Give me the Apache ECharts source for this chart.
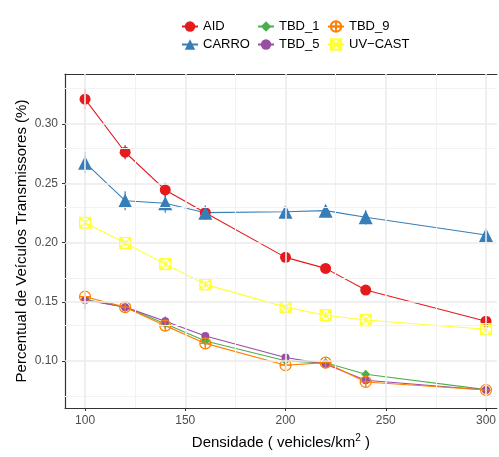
<!DOCTYPE html>
<html>
<head>
<meta charset="utf-8">
<script src="https://cdn.jsdelivr.net/npm/echarts@6/dist/echarts.min.js"></script>
<style>
  html, body { margin: 0; padding: 0; background: #fff; }
  #chart { width: 499px; height: 457px; }
</style>
</head>
<body>
<div id="chart"></div>
<script>
  // densidades (eixo x)
  const densidade = [100, 120, 140, 160, 200, 220, 240, 300]

  // valores
  const aid    = [0.3211, 0.2763, 0.2445, 0.2253, 0.1876, 0.1783, 0.1600, 0.1337]
  const carro  = [0.2675, 0.2354, 0.2332, 0.2253, 0.2261, 0.2270, 0.2214, 0.2064]
  const tbd1   = [0.1520, 0.1456, 0.1315, 0.1170, 0.1003, 0.0986, 0.0890, 0.0760]
  const tbd5   = [0.1516, 0.1456, 0.1337, 0.1212, 0.1031, 0.0975, 0.0839, 0.0757]
  const tbd9   = [0.1544, 0.1456, 0.1300, 0.1150, 0.0966, 0.0988, 0.0825, 0.0757]
  const uvcast = [0.2168, 0.1997, 0.1819, 0.1648, 0.1456, 0.1388, 0.1347, 0.1270]

  // meia altura das barras de erro
  const aidErr    = [0.0085, 0.006, 0.006, 0.005, 0.003, 0.003, 0.003, 0.003]
  const carroErr  = [0.009, 0.008, 0.008, 0.006, 0.005, 0.004, 0.006, 0.003]
  const tbd1Err   = [0.004, 0.003, 0.003, 0.003, 0.003, 0.003, 0.003, 0.002]
  const tbd5Err   = [0.0075, 0.003, 0.004, 0.003, 0.003, 0.003, 0.003, 0.002]
  const tbd9Err   = [0.006, 0.003, 0.003, 0.003, 0.003, 0.003, 0.003, 0.002]
  const uvcastErr = [0.003, 0.003, 0.003, 0.003, 0.003, 0.003, 0.003, 0.003]

  // ticks e grade
  const xTicks = [100, 150, 200, 250, 300]
  const xMinor = [125, 175, 225, 275]
  const yTicks = [0.10, 0.15, 0.20, 0.25, 0.30]
  const yMinor = [0.075, 0.125, 0.175, 0.225, 0.275, 0.325]

  const circlePlus = 'path://M10,0A10,10 0 1,1 9.99,0Z M10,0L10,20 M0,10L20,10'
  const squareX = 'path://M0,0L20,0L20,20L0,20Z M0,0L20,20 M20,0L0,20 M10,0A10,10 0 1,1 9.99,0Z'

  const myChart = echarts.init(document.getElementById('chart'))

  function pairs(vals) {
    return densidade.map((d, i) => [d, vals[i]])
  }

  function errBars(vals, errs, color) {
    return {
      type: 'custom',
      silent: true,
      z: 3,
      data: densidade.map((d, i) => [d, vals[i] - errs[i], vals[i] + errs[i]]),
      renderItem: function (params, api) {
        const lo = api.coord([api.value(0), api.value(1)])
        const hi = api.coord([api.value(0), api.value(2)])
        return {
          type: 'line',
          shape: { x1: lo[0], y1: lo[1], x2: hi[0], y2: hi[1] },
          style: { stroke: color, lineWidth: 1.2 }
        }
      }
    }
  }

  function lineSerie(name, vals, color, symbol, size, open) {
    return {
      name: name,
      type: 'line',
      data: pairs(vals),
      symbol: symbol,
      symbolSize: size,
      z: 4,
      lineStyle: { color: color, width: 1.1 },
      itemStyle: open
        ? { color: 'rgba(255,255,255,0)', borderColor: color, borderWidth: 1.2 }
        : { color: color },
      emphasis: { disabled: true }
    }
  }

  // linhas de grade feitas com markLine
  const gridSerie = {
    type: 'line',
    data: [],
    silent: true,
    z: 1,
    markLine: {
      silent: true,
      symbol: 'none',
      label: { show: false },
      animation: false,
      data: [
        ...xMinor.map(v => ({ xAxis: v, lineStyle: { color: '#F2F2F2', width: 1, type: 'solid' } })),
        ...yMinor.map(v => ({ yAxis: v, lineStyle: { color: '#F2F2F2', width: 1, type: 'solid' } })),
        ...xTicks.map(v => ({ xAxis: v, lineStyle: { color: '#EBEBEB', width: 1.6, type: 'solid' } })),
        ...yTicks.map(v => ({ yAxis: v, lineStyle: { color: '#EBEBEB', width: 1.6, type: 'solid' } }))
      ]
    }
  }

  const legendBase = {
    orient: 'vertical',
    top: 15,
    itemWidth: 16,
    itemHeight: 13,
    itemGap: 5,
    textStyle: { fontSize: 13, color: '#000', fontFamily: 'Liberation Sans' },
    selectedMode: false
  }

  const borderLine = { show: true, lineStyle: { color: '#333', width: 1.2 } }

  const option = {
    animation: false,
    textStyle: { fontFamily: 'Liberation Sans' },
    legend: [
      { ...legendBase, left: 176, data: ['AID', 'CARRO'] },
      { ...legendBase, left: 252, data: ['TBD_1', 'TBD_5'] },
      { ...legendBase, left: 322, data: ['TBD_9', 'UV\u2212CAST'] }
    ],
    grid: {
      left: 65,
      right: 0,
      top: 74,
      bottom: 49,
      containLabel: false
    },
    xAxis: [
      {
        type: 'value',
        min: 90,
        max: 305.4,
        name: 'Densidade ( vehicles/km{sup|2} )',
        nameLocation: 'middle',
        nameGap: 25,
        nameTextStyle: {
          fontSize: 15,
          color: '#000',
          rich: { sup: { fontSize: 10, color: '#000', padding: [0, 0, 9, 0] } }
        },
        axisLine: borderLine,
        axisTick: { show: true, length: 3, customValues: xTicks, lineStyle: { color: '#333' } },
        axisLabel: { customValues: xTicks, fontSize: 12, color: '#4D4D4D', margin: 7 },
        splitLine: { show: false }
      },
      {
        type: 'value',
        position: 'top',
        min: 90,
        max: 305.4,
        axisLine: borderLine,
        axisTick: { show: false },
        axisLabel: { show: false },
        splitLine: { show: false }
      }
    ],
    yAxis: {
      type: 'value',
      min: 0.0605,
      max: 0.3423,
      name: 'Percentual de Veículos Transmissores (%)',
      nameLocation: 'middle',
      nameGap: 36,
      nameMoveOverlap: false,
      nameTextStyle: { fontSize: 15, color: '#000' },
      axisLine: borderLine,
      axisTick: { show: true, length: 3, customValues: yTicks, lineStyle: { color: '#333' } },
      axisLabel: {
        customValues: yTicks,
        fontSize: 12,
        color: '#4D4D4D',
        margin: 7,
        formatter: v => v.toFixed(2)
      },
      splitLine: { show: false }
    },
    series: [
      gridSerie,
      lineSerie('AID', aid, '#E41A1C', 'circle', 11),
      lineSerie('CARRO', carro, '#377EB8', 'triangle', 14),
      lineSerie('TBD_1', tbd1, '#4DAF4A', 'diamond', 9),
      lineSerie('TBD_5', tbd5, '#984EA3', 'circle', 8),
      lineSerie('TBD_9', tbd9, '#FF7F00', circlePlus, 11, true),
      lineSerie('UV\u2212CAST', uvcast, '#FFFF33', squareX, 11, true),
      errBars(aid, aidErr, '#E41A1C'),
      errBars(carro, carroErr, '#377EB8'),
      errBars(tbd1, tbd1Err, '#4DAF4A'),
      errBars(tbd5, tbd5Err, '#984EA3'),
      errBars(tbd9, tbd9Err, '#FF7F00'),
      errBars(uvcast, uvcastErr, '#FFFF33')
    ]
  }

  myChart.setOption(option)
</script>
</body>
</html>
